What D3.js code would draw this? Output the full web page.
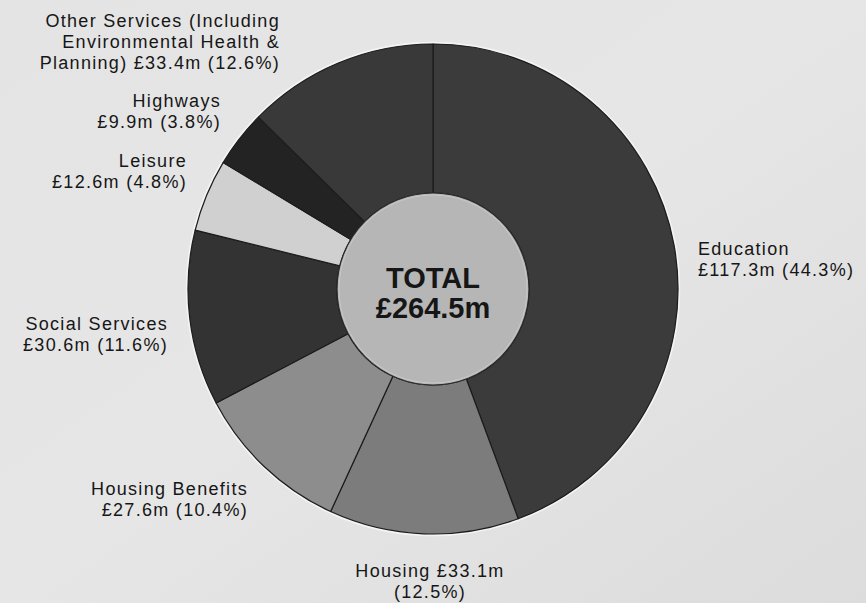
<!DOCTYPE html>
<html>
<head>
<meta charset="utf-8">
<script src="https://cdn.jsdelivr.net/npm/d3@7"></script>
<style>
  html, body { margin: 0; padding: 0; background: #e2e2e2; }
  svg { display: block; }
  text { font-family: "Liberation Sans", Arial, Helvetica, sans-serif; fill: #161616; }
</style>
</head>
<body>
<script>
// ---- data ----
const categories = ["Education", "Housing", "Housing Benefits", "Social Services", "Leisure", "Highways", "Other Services"];
const values = [117.3, 33.1, 27.6, 30.6, 12.6, 9.9, 33.4];          // £m
const percents = [44.3, 12.5, 10.4, 11.6, 4.8, 3.8, 12.6];          // %
const labelLines = [
  ["Education", "£117.3m (44.3%)"],
  ["Housing £33.1m", "(12.5%)"],
  ["Housing Benefits", "£27.6m (10.4%)"],
  ["Social Services", "£30.6m (11.6%)"],
  ["Leisure", "£12.6m (4.8%)"],
  ["Highways", "£9.9m (3.8%)"],
  ["Other Services (Including", "Environmental Health &", "Planning) £33.4m (12.6%)"]
];
const totalLabel = ["TOTAL", "£264.5m"];

// ---- styles / layout (not data) ----
const W = 866, H = 603;
const cx = 433, cy = 289, rOuter = 245, rInner = 96;
const palette = ["#3b3b3b", "#7c7c7c", "#8d8d8d", "#333333", "#d0d0d0", "#232323", "#393939"];
// label anchor: [x, first baseline y, text-anchor]
const labelLayout = [
  [698, 255, "start"],
  [430, 577, "middle"],
  [248, 495, "end"],
  [168, 330, "end"],
  [187, 167, "end"],
  [221, 107, "end"],
  [280, 27, "end"]
];
const lineH = 21;

const svg = d3.select("body").append("svg").attr("width", W).attr("height", H);

const defs = svg.append("defs");
const grad = defs.append("linearGradient").attr("id", "bg").attr("x1", "0").attr("y1", "0").attr("x2", "1").attr("y2", "1");
grad.append("stop").attr("offset", "0").attr("stop-color", "#e4e4e4");
grad.append("stop").attr("offset", "0.5").attr("stop-color", "#e6e6e6");
grad.append("stop").attr("offset", "1").attr("stop-color", "#dcdcdc");
svg.append("rect").attr("width", W).attr("height", H).attr("fill", "url(#bg)");

const color = d3.scaleOrdinal().domain(categories).range(palette);
const pie = d3.pie().sort(null).value((d, i) => values[i]);
const arcs = pie(categories);
const arc = d3.arc().innerRadius(rInner).outerRadius(rOuter);

const g = svg.append("g").attr("transform", `translate(${cx},${cy})`);

// subtle white highlight under the outer edge
g.append("circle").attr("r", rOuter + 1.5).attr("fill", "none").attr("stroke", "#f4f4f4").attr("stroke-width", 1.5);

g.selectAll("path.slice").data(arcs).join("path")
  .attr("class", "slice")
  .attr("d", arc)
  .attr("fill", d => color(d.data))
  .attr("stroke", "#1c1c1c")
  .attr("stroke-width", 1.2)
  .attr("stroke-linejoin", "round");

// centre disc
g.append("circle").attr("r", rInner).attr("fill", "#b6b6b6").attr("stroke", "#2a2a2a").attr("stroke-width", 1.2);
g.append("circle").attr("r", rInner - 2).attr("fill", "none").attr("stroke", "#c8c8c8").attr("stroke-width", 1);

g.append("text").attr("x", 0).attr("y", -1).attr("text-anchor", "middle")
  .attr("font-size", 29).attr("font-weight", "bold").text(totalLabel[0]);
g.append("text").attr("x", 0).attr("y", 29).attr("text-anchor", "middle")
  .attr("font-size", 29).attr("font-weight", "bold").text(totalLabel[1]);

// labels
const lg = svg.append("g");
labelLines.forEach((lines, i) => {
  const [x, y, anchor] = labelLayout[i];
  const t = lg.append("text")
    .attr("text-anchor", anchor)
    .attr("font-size", 18)
    .attr("letter-spacing", 1.3);
  lines.forEach((ln, j) => {
    t.append("tspan").attr("x", x).attr("y", y + j * lineH).text(ln);
  });
});
</script>
</body>
</html>
